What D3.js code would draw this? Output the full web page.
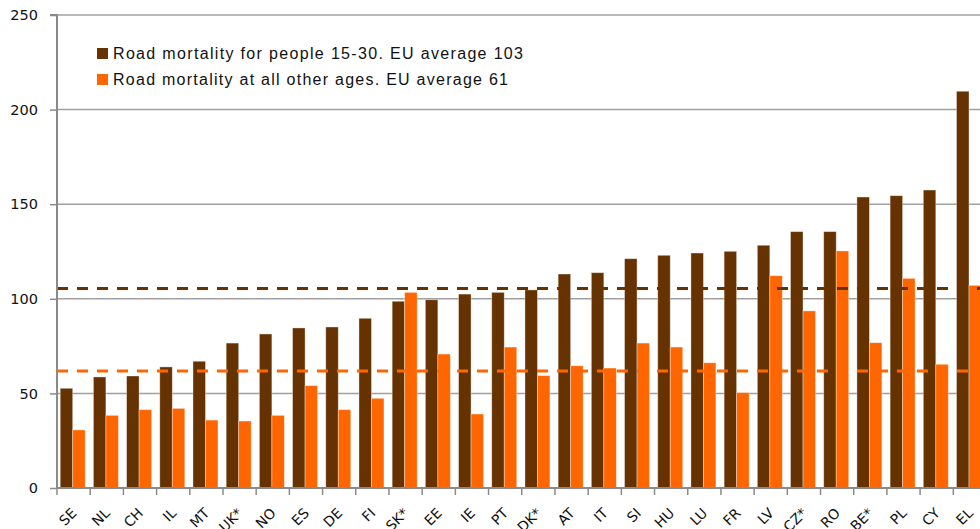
<!DOCTYPE html>
<html><head><meta charset="utf-8">
<script src="https://cdn.jsdelivr.net/npm/d3@7/dist/d3.min.js"></script>
<style>html,body{margin:0;padding:0;background:#fff;overflow:hidden}</style>
</head><body>
<svg id="chart" width="980" height="529"></svg>
<script>
const categories = ["SE","NL","CH","IL","MT","UK*","NO","ES","DE","FI","SK*","EE","IE","PT","DK*","AT","IT","SI","HU","LU","FR","LV","CZ*","RO","BE*","PL","CY","EL"];
const young = [52.7,58.7,59.2,64,67,76.6,81.4,84.6,85.1,89.7,98.7,99.5,102.5,103.4,104.7,113.1,113.8,121.2,123,124.2,125.1,128.3,135.5,135.5,153.8,154.5,157.5,209.7];
const other = [30.7,38.4,41.4,42.1,35.9,35.4,38.4,54.1,41.4,47.4,103.4,70.8,39.1,74.5,59.4,64.6,63.4,76.6,74.5,66.2,50.4,112.2,93.6,125.3,76.8,110.8,65.4,107.1];
const yTicks = [0,50,100,150,200,250];
const seriesNames = ["Road mortality for people 15-30. EU average 103","Road mortality at all other ages. EU average 61"];
const averageLines = [105.4, 61.8];
const colors = ["#663300","#FF6600"];

(function(){
const svg = d3.select("#chart");
const pLeft = 57, pRight = 986.5, pTop = 15, pBottom = 488;

const x0 = d3.scaleBand().domain(categories).range([pLeft, pRight]).padding(0);
const groupW = 25;
const x1 = d3.scaleBand().domain([0,1]).range([0, groupW]).padding(0);
const y = d3.scaleLinear().domain([0,250]).range([pBottom, pTop]);

// gridlines
svg.append("g").selectAll("line").data(yTicks.filter(d=>d>0)).join("line")
  .attr("x1", pLeft).attr("x2", 980).attr("y1", d=>y(d)).attr("y2", d=>y(d))
  .attr("stroke","#a0a0a0").attr("stroke-width",1.5);

// bars
const groups = svg.append("g").selectAll("g").data(categories).join("g")
  .attr("transform", d => `translate(${x0(d) + (x0.bandwidth()-groupW)/2 - 0.9},0)`);
groups.selectAll("rect").data((d,i)=>[young[i], other[i]].map((v,k)=>({v,k}))).join("rect")
  .attr("x", d=>x1(d.k)).attr("width", x1.bandwidth())
  .attr("y", d=>y(d.v)).attr("height", d=>y(0)-y(d.v))
  .attr("fill", d=>colors[d.k])
  .attr("stroke", "rgba(255,255,255,0.45)").attr("stroke-width", 0.8);

// average dashed lines
svg.append("g").selectAll("line").data(averageLines).join("line")
  .attr("x1", pLeft).attr("x2", 990).attr("y1", d=>y(d)).attr("y2", d=>y(d))
  .attr("stroke", (d,i)=>colors[i]).attr("stroke-width",3).attr("stroke-dasharray","11 9");

// y axis
const yAxis = d3.axisLeft(y).tickValues(yTicks).tickSize(7).tickPadding(12);
const gy = svg.append("g").attr("transform",`translate(${pLeft},0)`).call(yAxis);
gy.select(".domain").attr("stroke","#8a8a8a").attr("stroke-width",2).attr("d",`M-7,${pTop}H0V${pBottom}`);
gy.selectAll(".tick line").attr("stroke","#8a8a8a").attr("stroke-width",1.5);
gy.selectAll(".tick text").attr("font-family","DejaVu Sans, Verdana, sans-serif").attr("font-size",14.5).attr("fill","#111");

// x axis
const gx = svg.append("g").attr("transform",`translate(0,${pBottom})`);
gx.append("line").attr("x1",pLeft).attr("x2",990).attr("y1",0).attr("y2",0).attr("stroke","#8a8a8a").attr("stroke-width",2);
gx.selectAll("line.tk").data(categories).join("line").attr("class","tk")
  .attr("x1",d=>x0(d)).attr("x2",d=>x0(d)).attr("y1",0).attr("y2",7)
  .attr("stroke","#8a8a8a").attr("stroke-width",1.5);
gx.selectAll("text").data(categories).join("text")
  .attr("text-anchor","end")
  .attr("transform", d=>`translate(${x0(d)+x0.bandwidth()/2+4},${26}) rotate(-45)`)
  .attr("font-family","DejaVu Sans, Verdana, sans-serif").attr("font-size",14).attr("fill","#111")
  .text(d=>d);

// legend
const legend = svg.append("g");
const lw = [410, 395];
seriesNames.forEach((name,i)=>{
  const yy = 48 + i*26;
  legend.append("rect").attr("x",97).attr("y",yy).attr("width",11).attr("height",11).attr("fill",colors[i]);
  legend.append("text").attr("x",113).attr("y",yy+11)
    .attr("font-family","Liberation Sans, Arial, sans-serif").attr("font-size",16).attr("fill","#111")
    .attr("textLength", lw[i]).attr("lengthAdjust","spacing")
    .text(name);
});
})();
</script>
</body></html>
